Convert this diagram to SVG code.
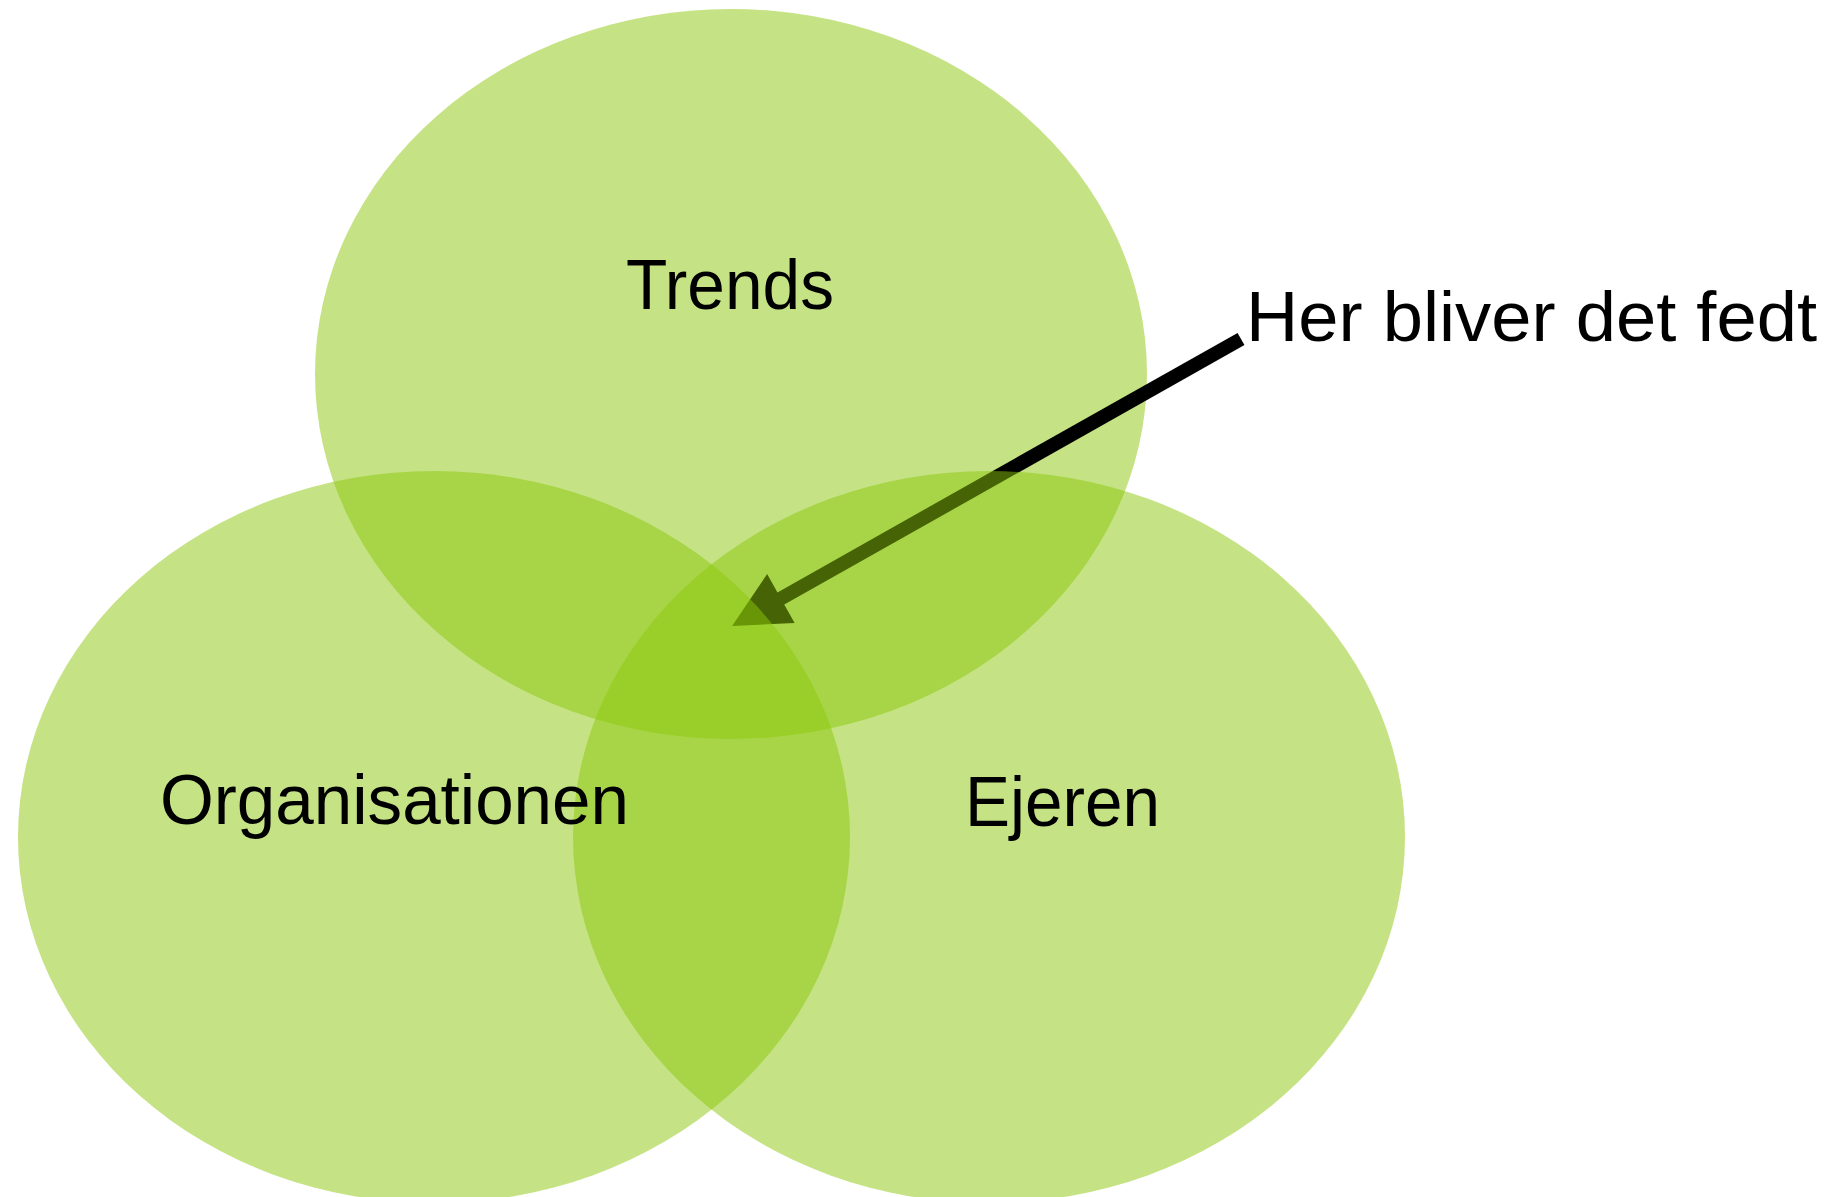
<svg xmlns="http://www.w3.org/2000/svg" width="1845" height="1197" viewBox="0 0 1845 1197">
<style>
.blob{fill:#8bc709;fill-opacity:0.5;stroke:none}
.lbl{font-family:"Liberation Sans",Arial,sans-serif;font-size:70px;fill:#000}
.conn{stroke:#000;stroke-width:14;stroke-linecap:butt;fill:none}
</style>
<defs>
<marker id="head" markerUnits="userSpaceOnUse" markerWidth="58" markerHeight="60" refX="1" refY="30" orient="auto" overflow="visible">
<path d="M0,2 L56,30 L0,58 Z" fill="#000"/>
</marker>
</defs>
<rect width="1845" height="1197" fill="#fff"/>
<g id="trends">
<ellipse class="blob" cx="731" cy="374" rx="416" ry="365"/>
</g>
<g id="connectors">
<line class="conn" x1="1241" y1="339" x2="780" y2="599" marker-end="url(#head)"/>
</g>
<g id="ejeren">
<ellipse class="blob" cx="989" cy="837" rx="416" ry="366"/>
</g>
<g id="organisationen">
<ellipse class="blob" cx="434" cy="837" rx="416" ry="366"/>
</g>
<g id="labels">
<text class="lbl" x="626" y="309" textLength="208" lengthAdjust="spacingAndGlyphs">Trends</text>
<text class="lbl" x="160" y="824" textLength="469" lengthAdjust="spacingAndGlyphs">Organisationen</text>
<text class="lbl" x="965" y="826" textLength="195" lengthAdjust="spacingAndGlyphs">Ejeren</text>
<text class="lbl" id="note" x="1246" y="341" textLength="571" lengthAdjust="spacingAndGlyphs">Her bliver det fedt</text>
</g>
</svg>
